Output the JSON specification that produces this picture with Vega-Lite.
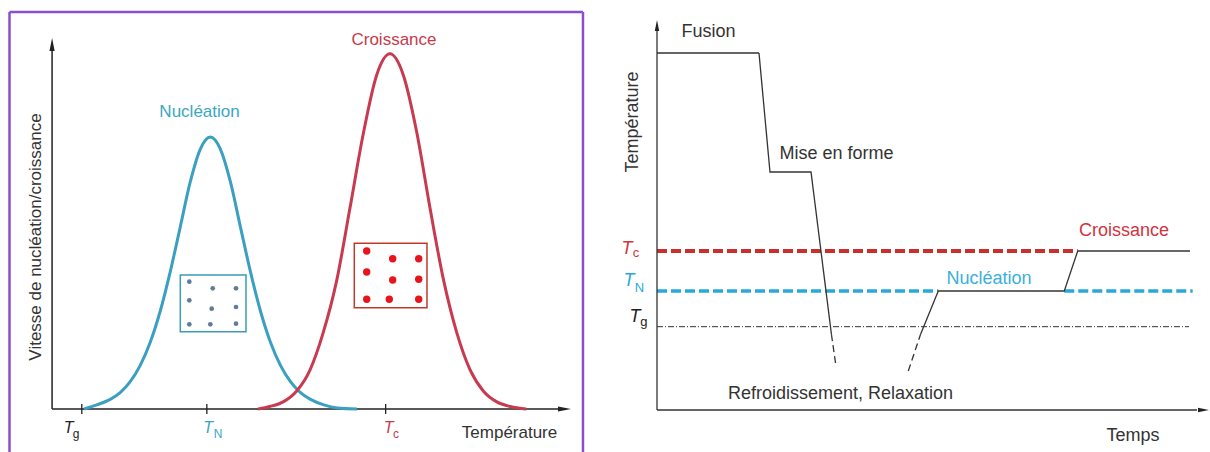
{
  "$schema": "https://vega.github.io/schema/vega-lite/v6.json",
  "padding": {"left": 8, "top": 10, "right": 0, "bottom": 0},
  "autosize": {"type": "pad"},
  "spacing": 18,
  "background": "white",
  "config": {"view": {"stroke": null}, "axis": {"disable": true}, "font": "Liberation Sans", "text": {"font": "Liberation Sans"}},
  "resolve": {"scale": {"x": "independent", "y": "independent", "color": "independent", "shape": "independent", "strokeDash": "independent"}},
  "hconcat": [
    {
      "width": 584,
      "height": 442,
      "encoding": {
        "x": {"field": "x", "type": "quantitative", "scale": {"domain": [-12.9, 162], "nice": false, "zero": false}, "axis": null},
        "y": {"field": "y", "type": "quantitative", "scale": {"domain": [-12.39, 112.07], "nice": false, "zero": false}, "axis": null}
      },
      "layer": [
        {
          "data": {"values": [
            {"x": -12.75, "y": -12.39, "x2": -12.75, "y2": 111.79},
            {"x": -12.75, "y": 111.79, "x2": 159, "y2": 111.79},
            {"x": 159, "y": 111.79, "x2": 159, "y2": -12.39}
          ]},
          "mark": {"type": "rule", "color": "#8a4fcf", "strokeWidth": 2.5},
          "encoding": {"x2": {"field": "x2"}, "y2": {"field": "y2"}}
        },
        {
          "data": {"values": [
            {"x": 0, "y": 0, "x2": 0, "y2": 102},
            {"x": 0, "y": 0, "x2": 152, "y2": 0}
          ]},
          "mark": {"type": "rule", "color": "#222", "strokeWidth": 1.5},
          "encoding": {"x2": {"field": "x2"}, "y2": {"field": "y2"}}
        },
        {
          "data": {"values": [
            {"x": 8.9, "y": -1.4, "y2": 1.4},
            {"x": 46.35, "y": -1.4, "y2": 1.4},
            {"x": 99.9, "y": -1.4, "y2": 1.4}
          ]},
          "mark": {"type": "rule", "color": "#222", "strokeWidth": 1.3},
          "encoding": {"y2": {"field": "y2"}}
        },
        {
          "data": {"values": [
            {"x": 0, "y": 102.64, "dir": "up"},
            {"x": 153.46, "y": 0, "dir": "right"}
          ]},
          "mark": {"type": "point", "filled": true, "size": 169, "color": "#222", "opacity": 1},
          "encoding": {"shape": {"field": "dir", "type": "nominal", "scale": {"domain": ["up", "right"], "range": ["M0,-1L0.4,1L-0.4,1Z", "M1,0L-1,-0.4L-1,0.4Z"]}, "legend": null}}
        },
        {
          "data": {"values": [
            {"x": 9.6, "y": 0}, {"x": 13.4, "y": 1.15}, {"x": 17.4, "y": 2.7}, {"x": 20.4, "y": 4.6},
            {"x": 23.4, "y": 7.7}, {"x": 26.4, "y": 12.3}, {"x": 29.4, "y": 18.8}, {"x": 32.4, "y": 27.6},
            {"x": 35.4, "y": 38.7}, {"x": 38.4, "y": 51.3}, {"x": 41.4, "y": 64}, {"x": 44.4, "y": 73.2},
            {"x": 47.4, "y": 76.6}, {"x": 50.4, "y": 73.2}, {"x": 53.4, "y": 64}, {"x": 56.4, "y": 51.3},
            {"x": 59.4, "y": 38.7}, {"x": 62.4, "y": 27.6}, {"x": 65.4, "y": 18.8}, {"x": 68.4, "y": 12.3},
            {"x": 71.4, "y": 7.7}, {"x": 74.4, "y": 4.6}, {"x": 77.4, "y": 2.7}, {"x": 81.4, "y": 1.15},
            {"x": 85.4, "y": 0.3}, {"x": 91.3, "y": 0}
          ]},
          "mark": {"type": "line", "color": "#3a9fc0", "strokeWidth": 3, "interpolate": "monotone"}
        },
        {
          "data": {"values": [
            {"x": 61.7, "y": 0}, {"x": 65.2, "y": 0.7}, {"x": 69.2, "y": 2}, {"x": 73.2, "y": 5},
            {"x": 77.2, "y": 10.9}, {"x": 81.2, "y": 21.5}, {"x": 85.2, "y": 36}, {"x": 89.2, "y": 56.5},
            {"x": 93.2, "y": 77.5}, {"x": 97.2, "y": 94}, {"x": 101.2, "y": 100}, {"x": 105.2, "y": 94},
            {"x": 109.2, "y": 78}, {"x": 113.2, "y": 56.5}, {"x": 117.2, "y": 36.5}, {"x": 121.2, "y": 21.5},
            {"x": 125.2, "y": 11}, {"x": 129.2, "y": 5}, {"x": 133.2, "y": 2}, {"x": 137.2, "y": 0.7},
            {"x": 142, "y": 0}
          ]},
          "mark": {"type": "line", "color": "#c73a4f", "strokeWidth": 3, "interpolate": "monotone"}
        },
        {
          "data": {"values": [{"x": 38.4, "y": 21.77, "x2": 58.08, "y2": 37.73}]},
          "mark": {"type": "rect", "fill": "white", "fillOpacity": 0, "stroke": "#3b9cb3", "strokeWidth": 1.5},
          "encoding": {"x2": {"field": "x2"}, "y2": {"field": "y2"}}
        },
        {
          "data": {"values": [
            {"x": 41.1, "y": 35.85}, {"x": 48.11, "y": 33.99}, {"x": 55.08, "y": 33.99},
            {"x": 41.1, "y": 30.61}, {"x": 47.81, "y": 28.24}, {"x": 55.08, "y": 28.72},
            {"x": 41.1, "y": 23.85}, {"x": 47.39, "y": 23.85}, {"x": 55.08, "y": 24.02}
          ]},
          "mark": {"type": "point", "filled": true, "size": 22, "color": "#5d7d99", "opacity": 1}
        },
        {
          "data": {"values": [{"x": 90.51, "y": 28.53, "x2": 112.28, "y2": 46.66}]},
          "mark": {"type": "rect", "fill": "white", "fillOpacity": 0, "stroke": "#c0392b", "strokeWidth": 1.5},
          "encoding": {"x2": {"field": "x2"}, "y2": {"field": "y2"}}
        },
        {
          "data": {"values": [
            {"x": 94.23, "y": 44.49}, {"x": 102.01, "y": 42.32}, {"x": 109.8, "y": 42.32},
            {"x": 94.23, "y": 38.58}, {"x": 102.01, "y": 36.32}, {"x": 109.8, "y": 36.52},
            {"x": 94.23, "y": 30.89}, {"x": 100.99, "y": 30.89}, {"x": 109.8, "y": 30.89}
          ]},
          "mark": {"type": "point", "filled": true, "size": 55, "color": "#e8141c", "opacity": 1}
        },
        {
          "data": {"values": [{"x": 137, "y": -6.76, "label": "Température"}]},
          "mark": {"type": "text", "fontSize": 17, "color": "#333", "align": "center", "baseline": "middle"},
          "encoding": {"text": {"field": "label"}}
        },
        {
          "data": {"values": [{"x": -4.81, "y": 48.43, "label": "Vitesse de nucléation/croissance"}]},
          "mark": {"type": "text", "fontSize": 17, "color": "#333", "align": "center", "baseline": "middle", "angle": 270},
          "encoding": {"text": {"field": "label"}}
        },
        {
          "data": {"values": [{"x": 44.16, "y": 83.6, "label": "Nucléation"}]},
          "mark": {"type": "text", "fontSize": 17, "color": "#3aa6c4", "align": "center", "baseline": "middle"},
          "encoding": {"text": {"field": "label"}}
        },
        {
          "data": {"values": [{"x": 102.4, "y": 103.9, "label": "Croissance"}]},
          "mark": {"type": "text", "fontSize": 17, "color": "#c83a4a", "align": "center", "baseline": "middle"},
          "encoding": {"text": {"field": "label"}}
        },
        {
          "data": {"values": [
            {"x": 4.99, "y": -5.49, "c": "g"},
            {"x": 46.71, "y": -5.49, "c": "N"},
            {"x": 100.76, "y": -5.49, "c": "c"}
          ]},
          "mark": {"type": "text", "text": "T", "fontSize": 16, "fontStyle": "italic", "align": "center", "baseline": "middle"},
          "encoding": {"color": {"field": "c", "type": "nominal", "scale": {"domain": ["g", "N", "c"], "range": ["#222", "#3aa6c4", "#c83a4a"]}, "legend": null}}
        },
        {
          "data": {"values": [
            {"x": 7.17, "y": -7.04, "c": "g"},
            {"x": 49.69, "y": -7.04, "c": "N"},
            {"x": 103.0, "y": -7.04, "c": "c"}
          ]},
          "mark": {"type": "text", "fontSize": 12, "align": "center", "baseline": "middle"},
          "encoding": {
            "text": {"field": "c"},
            "color": {"field": "c", "type": "nominal", "scale": {"domain": ["g", "N", "c"], "range": ["#222", "#3aa6c4", "#c83a4a"]}, "legend": null}
          }
        }
      ]
    },
    {
      "width": 600,
      "height": 442,
      "encoding": {
        "x": {"field": "x", "type": "quantitative", "scale": {"domain": [-7.6667, 92.3333], "nice": false, "zero": false}, "axis": null},
        "y": {"field": "y", "type": "quantitative", "scale": {"domain": [-10.75, 99.75], "nice": false, "zero": false}, "axis": null}
      },
      "layer": [
        {
          "data": {"values": [{"x": 0, "x2": 70.12, "y": 39.75}]},
          "mark": {"type": "rule", "color": "#c9302c", "strokeWidth": 4, "strokeDash": [10, 4]},
          "encoding": {"x2": {"field": "x2"}}
        },
        {
          "data": {"values": [{"x": 0, "x2": 46.88, "y": 29.75}, {"x": 67.88, "x2": 89.28, "y": 29.75}]},
          "mark": {"type": "rule", "color": "#29a8d9", "strokeWidth": 3.5, "strokeDash": [10, 4]},
          "encoding": {"x2": {"field": "x2"}}
        },
        {
          "data": {"values": [{"x": 0, "x2": 88.67, "y": 20.83}]},
          "mark": {"type": "rule", "color": "#333", "strokeWidth": 1, "strokeDash": [6, 2, 1, 2]},
          "encoding": {"x2": {"field": "x2"}}
        },
        {
          "data": {"values": [
            {"x": 0, "y": 0, "x2": 0, "y2": 95},
            {"x": 0, "y": 0, "x2": 90, "y2": 0}
          ]},
          "mark": {"type": "rule", "color": "#333", "strokeWidth": 1.3},
          "encoding": {"x2": {"field": "x2"}, "y2": {"field": "y2"}}
        },
        {
          "data": {"values": [
            {"x": 0, "y": 96.125, "dir": "up"},
            {"x": 91.08, "y": 0, "dir": "right"}
          ]},
          "mark": {"type": "point", "filled": true, "size": 121, "color": "#222", "opacity": 1},
          "encoding": {"shape": {"field": "dir", "type": "nominal", "scale": {"domain": ["up", "right"], "range": ["M0,-1L0.4,1L-0.4,1Z", "M1,0L-1,-0.4L-1,0.4Z"]}, "legend": null}}
        },
        {
          "data": {"values": [
            {"seg": "a", "style": "solid", "i": 0, "x": 0, "y": 89.25},
            {"seg": "a", "style": "solid", "i": 1, "x": 17, "y": 89.25},
            {"seg": "a", "style": "solid", "i": 2, "x": 18.83, "y": 59.5},
            {"seg": "a", "style": "solid", "i": 3, "x": 25.67, "y": 59.5},
            {"seg": "a", "style": "solid", "i": 4, "x": 29.07, "y": 18.93},
            {"seg": "b", "style": "dashed", "i": 0, "x": 29.07, "y": 18.93},
            {"seg": "b", "style": "dashed", "i": 1, "x": 29.83, "y": 11.0},
            {"seg": "c", "style": "dashed", "i": 0, "x": 41.88, "y": 9.75},
            {"seg": "c", "style": "dashed", "i": 1, "x": 43.93, "y": 18.93},
            {"seg": "d", "style": "solid", "i": 0, "x": 43.93, "y": 18.93},
            {"seg": "d", "style": "solid", "i": 1, "x": 46.88, "y": 29.75},
            {"seg": "d", "style": "solid", "i": 2, "x": 67.88, "y": 29.75},
            {"seg": "d", "style": "solid", "i": 3, "x": 70.12, "y": 39.75},
            {"seg": "d", "style": "solid", "i": 4, "x": 88.83, "y": 39.75}
          ]},
          "mark": {"type": "line", "color": "#333", "strokeWidth": 1.3},
          "encoding": {
            "detail": {"field": "seg"},
            "order": {"field": "i", "type": "quantitative"},
            "strokeDash": {"field": "style", "type": "nominal", "scale": {"domain": ["solid", "dashed"], "range": [[1, 0], [7, 4]]}, "legend": null}
          }
        },
        {
          "data": {"values": [
            {"x": 8.58, "y": 94.5, "label": "Fusion"},
            {"x": 29.92, "y": 64.0, "label": "Mise en forme"},
            {"x": 30.58, "y": 3.92, "label": "Refroidissement, Relaxation"},
            {"x": 79.33, "y": -6.5, "label": "Temps"}
          ]},
          "mark": {"type": "text", "fontSize": 18, "color": "#333", "align": "center", "baseline": "middle"},
          "encoding": {"text": {"field": "label"}}
        },
        {
          "data": {"values": [{"x": -4.0, "y": 72.0, "label": "Température"}]},
          "mark": {"type": "text", "fontSize": 18, "color": "#333", "align": "center", "baseline": "middle", "angle": 270},
          "encoding": {"text": {"field": "label"}}
        },
        {
          "data": {"values": [{"x": 77.83, "y": 44.75, "label": "Croissance"}]},
          "mark": {"type": "text", "fontSize": 18, "color": "#d0343f", "align": "center", "baseline": "middle"},
          "encoding": {"text": {"field": "label"}}
        },
        {
          "data": {"values": [{"x": 55.33, "y": 32.83, "label": "Nucléation"}]},
          "mark": {"type": "text", "fontSize": 18, "color": "#3ab0dc", "align": "center", "baseline": "middle"},
          "encoding": {"text": {"field": "label"}}
        },
        {
          "data": {"values": [
            {"x": -5.0, "y": 40.25, "c": "c"},
            {"x": -4.67, "y": 32.25, "c": "N"},
            {"x": -3.67, "y": 23.13, "c": "g"}
          ]},
          "mark": {"type": "text", "text": "T", "fontSize": 18, "fontStyle": "italic", "align": "center", "baseline": "middle"},
          "encoding": {"color": {"field": "c", "type": "nominal", "scale": {"domain": ["g", "N", "c"], "range": ["#222", "#2aa8dc", "#d0343f"]}, "legend": null}}
        },
        {
          "data": {"values": [
            {"x": -3.5, "y": 39.13, "c": "c"},
            {"x": -2.92, "y": 30.38, "c": "N"},
            {"x": -2.17, "y": 22.0, "c": "g"}
          ]},
          "mark": {"type": "text", "fontSize": 13, "align": "center", "baseline": "middle"},
          "encoding": {
            "text": {"field": "c"},
            "color": {"field": "c", "type": "nominal", "scale": {"domain": ["g", "N", "c"], "range": ["#222", "#2aa8dc", "#d0343f"]}, "legend": null}
          }
        }
      ]
    }
  ]
}
